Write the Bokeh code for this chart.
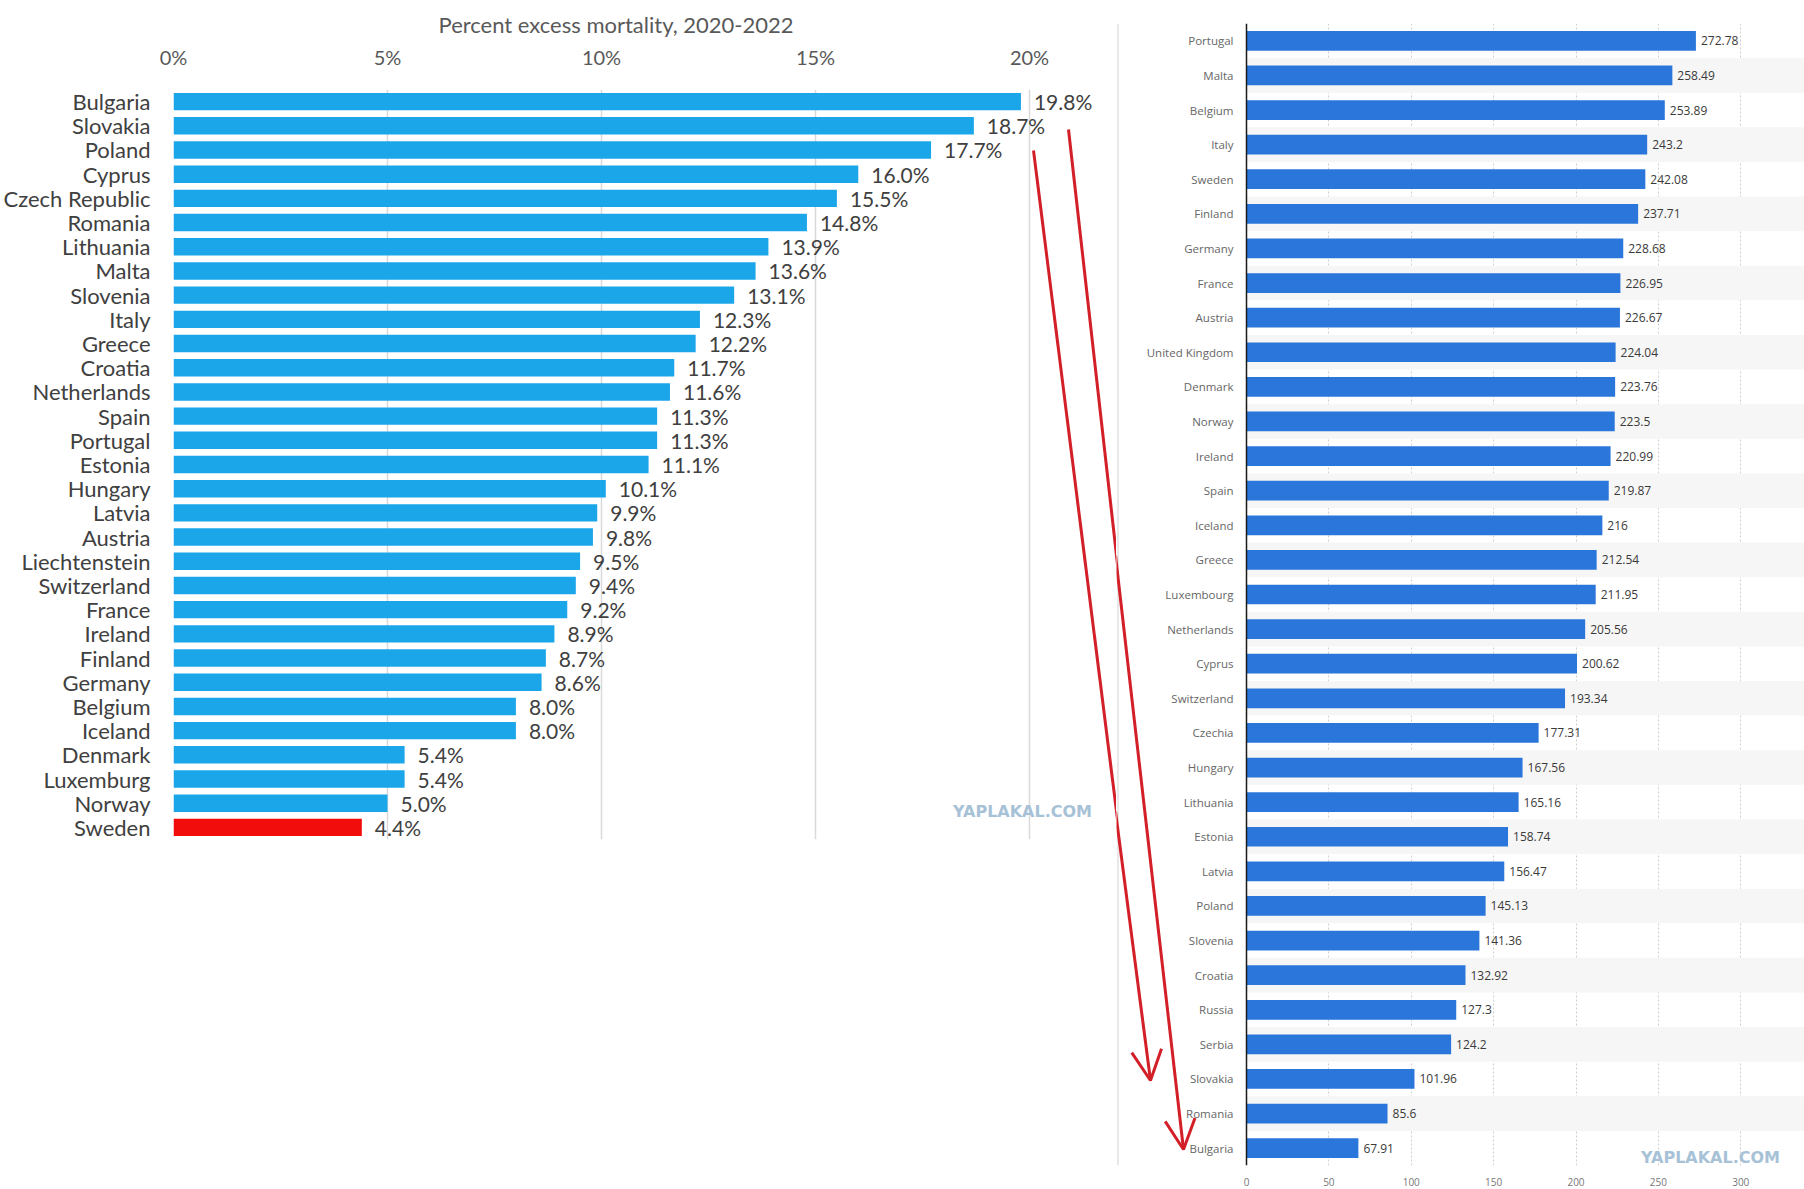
from bokeh.plotting import figure
from bokeh.models import (ColumnDataSource, FactorRange, Range1d, FixedTicker,
                          Arrow, OpenHead, Label, Span)
from bokeh.layouts import row
from bokeh.embed import file_html
from bokeh.resources import INLINE
from bokeh.core.properties import value

# ---------------- data: left chart ----------------
left_title = "Percent excess mortality, 2020-2022"
left_countries = ["Bulgaria", "Slovakia", "Poland", "Cyprus", "Czech Republic", "Romania",
                  "Lithuania", "Malta", "Slovenia", "Italy", "Greece", "Croatia",
                  "Netherlands", "Spain", "Portugal", "Estonia", "Hungary", "Latvia",
                  "Austria", "Liechtenstein", "Switzerland", "France", "Ireland", "Finland",
                  "Germany", "Belgium", "Iceland", "Denmark", "Luxemburg", "Norway", "Sweden"]
left_values = [19.8, 18.7, 17.7, 16.0, 15.5, 14.8, 13.9, 13.6, 13.1, 12.3, 12.2, 11.7,
               11.6, 11.3, 11.3, 11.1, 10.1, 9.9, 9.8, 9.5, 9.4, 9.2, 8.9, 8.7,
               8.6, 8.0, 8.0, 5.4, 5.4, 5.0, 4.4]
left_ticks = [0, 5, 10, 15, 20]
left_tick_labels = ["0%", "5%", "10%", "15%", "20%"]
left_highlight = "Sweden"

# ---------------- data: right chart ----------------
right_countries = ["Portugal", "Malta", "Belgium", "Italy", "Sweden", "Finland", "Germany",
                   "France", "Austria", "United Kingdom", "Denmark", "Norway", "Ireland",
                   "Spain", "Iceland", "Greece", "Luxembourg", "Netherlands", "Cyprus",
                   "Switzerland", "Czechia", "Hungary", "Lithuania", "Estonia", "Latvia",
                   "Poland", "Slovenia", "Croatia", "Russia", "Serbia", "Slovakia",
                   "Romania", "Bulgaria"]
right_values = [272.78, 258.49, 253.89, 243.2, 242.08, 237.71, 228.68, 226.95, 226.67,
                224.04, 223.76, 223.5, 220.99, 219.87, 216, 212.54, 211.95, 205.56,
                200.62, 193.34, 177.31, 167.56, 165.16, 158.74, 156.47, 145.13, 141.36,
                132.92, 127.3, 124.2, 101.96, 85.6, 67.91]
right_ticks = [0, 50, 100, 150, 200, 250, 300]

watermark = "YAPLAKAL.COM"

RED = "#d21f28"

# ---------------- left figure ----------------
L_WIDTH = 1116
L_FRAME_LEFT, L_FRAME_RIGHT = 173.0, 1116.0   # page px
L_FRAME_TOP, L_FRAME_BOTTOM = 89.0, 839.0
L_PX_PER = 42.8
l_xmax = (L_FRAME_RIGHT - L_FRAME_LEFT) / L_PX_PER
l_row = (L_FRAME_BOTTOM - L_FRAME_TOP) / len(left_countries)


def lx(px):
    return (px - L_FRAME_LEFT) / L_PX_PER


def ly(py):
    return (L_FRAME_BOTTOM - py) / l_row


pl = figure(width=L_WIDTH, height=850,
            x_range=Range1d(0, l_xmax),
            y_range=FactorRange(factors=left_countries[::-1]),
            x_axis_location="above",
            output_backend="svg", toolbar_location=None,
            frame_align=False,
            min_border_left=int(L_FRAME_LEFT), min_border_right=0,
            min_border_top=int(L_FRAME_TOP), min_border_bottom=850 - int(L_FRAME_BOTTOM))
pl.outline_line_color = None

lsrc = ColumnDataSource(dict(
    country=left_countries,
    value=left_values,
    label=[f"{v:.1f}%" for v in left_values],
    color=["#f20d0d" if c == left_highlight else "#1ba6e9" for c in left_countries],
))
pl.hbar(y="country", left=0, right="value", height=0.72, fill_color="color",
        line_color=None, source=lsrc)
pl.text(x="value", y="country", text="label", source=lsrc, x_offset=13,
        text_align="left", text_baseline="middle", text_font=value("Lato"),
        text_font_size="21px", text_color="#404040")

pl.xaxis.ticker = FixedTicker(ticks=left_ticks)
pl.xaxis.major_label_overrides = {t: s for t, s in zip(left_ticks, left_tick_labels)}
pl.xaxis.axis_line_color = None
pl.xaxis.major_tick_line_color = None
pl.xaxis.minor_tick_line_color = None
pl.xaxis.major_label_standoff = 15
pl.xaxis.major_label_text_font = "Lato"
pl.xaxis.major_label_text_font_size = "20px"
pl.xaxis.major_label_text_color = "#595959"

pl.yaxis.axis_line_color = None
pl.yaxis.major_tick_line_color = None
pl.yaxis.minor_tick_line_color = None
pl.yaxis.major_label_standoff = 17
pl.yaxis.major_label_text_font = "Lato"
pl.yaxis.major_label_text_font_size = "22px"
pl.yaxis.major_label_text_color = "#404040"

pl.xgrid.ticker = FixedTicker(ticks=left_ticks)
pl.xgrid.grid_line_color = "#d9d9d9"
pl.xgrid.grid_line_width = 1.5
pl.ygrid.grid_line_color = None

pl.title.text = left_title
pl.title.align = "left"
pl.title.offset = 265
pl.title.standoff = 7
pl.title.text_font = "Lato"
pl.title.text_font_size = "22px"
pl.title.text_font_style = "normal"
pl.title.text_color = "#595959"

pl.add_layout(Label(x=lx(1022), y=ly(811), text=watermark, text_align="center",
                    text_baseline="middle", text_font="DejaVu Sans",
                    text_font_style="bold", text_font_size="16px",
                    text_color="#a7c2d6"))

pl.add_layout(Arrow(end=None, x_start=lx(1033), y_start=ly(150), x_end=lx(1117),
                    y_end=ly(819), line_color=RED, line_width=3))
pl.add_layout(Arrow(end=None, x_start=lx(1068), y_start=ly(129), x_end=lx(1117),
                    y_end=ly(564), line_color=RED, line_width=3))

# ---------------- right figure ----------------
R_PAGE_LEFT, R_PAGE_RIGHT = 1116.0, 1804.0
R_HEIGHT = 1189
R_AXIS_X = 1246.0
R_PX_PER = 1.6475
R_FRAME_TOP, R_FRAME_BOTTOM = 23.0, 1165.0
r_row = (R_FRAME_BOTTOM - R_FRAME_TOP) / len(right_countries)


def rx(px):
    return (px - R_AXIS_X) / R_PX_PER


def ry(py):
    return (R_FRAME_BOTTOM - py) / r_row


pr = figure(width=int(R_PAGE_RIGHT - R_PAGE_LEFT), height=R_HEIGHT,
            x_range=Range1d(rx(R_PAGE_LEFT), rx(R_PAGE_RIGHT)),
            y_range=FactorRange(factors=right_countries[::-1]),
            output_backend="svg", toolbar_location=None,
            frame_align=False,
            min_border_left=0, min_border_right=0,
            min_border_top=int(R_FRAME_TOP), min_border_bottom=R_HEIGHT - int(R_FRAME_BOTTOM))
pr.outline_line_color = None
pr.yaxis.visible = False

band_countries = [c for i, c in enumerate(right_countries) if i % 2 == 1]
pr.hbar(y=band_countries, left=0, right=rx(R_PAGE_RIGHT) + 10, height=1.0,
        fill_color="#f6f6f6", line_color=None)

pr.xgrid.ticker = FixedTicker(ticks=right_ticks[1:])
pr.xgrid.grid_line_color = "#cfcfcf"
pr.xgrid.grid_line_dash = "2 2"
pr.xgrid.grid_line_width = 1
pr.ygrid.grid_line_color = None

rsrc = ColumnDataSource(dict(
    country=right_countries,
    value=right_values,
    label=[f"{v:g}" for v in right_values],
))
pr.hbar(y="country", left=0, right="value", height=0.57, fill_color="#2a76da",
        line_color=None, source=rsrc)
pr.text(x="value", y="country", text="label", source=rsrc, x_offset=5,
        text_align="left", text_baseline="middle", text_font=value("Open Sans"),
        text_font_size="12px", text_color="#3a3a3a")
pr.text(x=0, y="country", text="country", source=rsrc, x_offset=-13,
        text_align="right", text_baseline="middle", text_font=value("Open Sans"),
        text_font_size="11.5px", text_color="#666666")

pr.add_layout(Span(location=0, dimension="height", line_color="#1a1a1a", line_width=1.5))
pr.add_layout(Span(location=rx(1117.5), dimension="height", line_color="#e0e0e0",
                   line_width=1.5))

pr.xaxis.ticker = FixedTicker(ticks=right_ticks)
pr.xaxis.axis_line_color = None
pr.xaxis.major_tick_line_color = None
pr.xaxis.minor_tick_line_color = None
pr.xaxis.major_label_standoff = 6
pr.xaxis.major_label_text_font = "Open Sans"
pr.xaxis.major_label_text_font_size = "10px"
pr.xaxis.major_label_text_color = "#777777"

pr.add_layout(Label(x=rx(1710), y=ry(1157), text=watermark, text_align="center",
                    text_baseline="middle", text_font="DejaVu Sans",
                    text_font_style="bold", text_font_size="16px",
                    text_color="#a7c2d6"))

pr.add_layout(Arrow(x_start=rx(1115), y_start=ry(811), x_end=rx(1150), y_end=ry(1080),
                    line_color=RED, line_width=3,
                    end=OpenHead(size=30, line_color=RED, line_width=3)))
pr.add_layout(Arrow(x_start=rx(1115), y_start=ry(555), x_end=rx(1183), y_end=ry(1149),
                    line_color=RED, line_width=3,
                    end=OpenHead(size=30, line_color=RED, line_width=3)))

layout = row(pl, pr)
open("out.html", "w").write(file_html(layout, INLINE))
